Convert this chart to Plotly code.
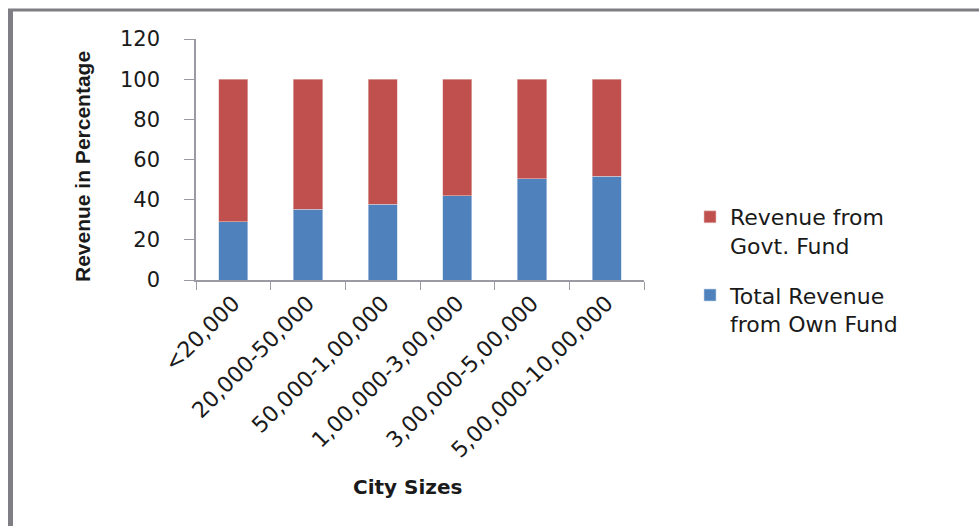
import plotly.graph_objects as go

# city size classes and revenue shares (%)
city_sizes = ["<20,000", "20,000-50,000", "50,000-1,00,000",
              "1,00,000-3,00,000", "3,00,000-5,00,000", "5,00,000-10,00,000"]
own_fund = [29, 35.3, 37.8, 42, 50.4, 51.7]
govt_fund = [71, 64.7, 62.2, 58, 49.6, 48.3]

W, H = 979, 526
L, R, T, B = 196, 335, 39, 246
pw, ph = W - L - R, H - T - B


def px_x(x):
    return (x - L) / pw


def px_y(y):
    return (H - B - y) / ph


fig = go.Figure()
fig.add_trace(go.Bar(
    x=city_sizes, y=own_fund, name="Total Revenue<br>from Own Fund",
    marker={"color": "#4F81BD", "line": {"color": "#c8d6ea", "width": 0.6}},
    legendgroup="own", legendrank=2,
))
fig.add_trace(go.Bar(
    x=city_sizes, y=govt_fund, name="Revenue from<br>Govt. Fund",
    marker={"color": "#C0504D", "line": {"color": "#e6c3c2", "width": 0.6}},
    legendgroup="govt", legendrank=1,
))

axis_col = "#9a9aa2"
fig.update_layout(
    barmode="stack",
    bargap=0.61,
    width=W, height=H,
    margin={"l": L, "r": R, "t": T, "b": B},
    paper_bgcolor="white", plot_bgcolor="white",
    font={"family": "DejaVu Sans", "color": "#1a1a1a"},
    legend={
        "x": px_x(690), "y": px_y(196), "xanchor": "left", "yanchor": "top",
        "traceorder": "grouped", "tracegroupgap": 18, "valign": "top",
        "font": {"size": 22, "family": "DejaVu Sans", "color": "#1a1a1a"},
    },
    xaxis={
        "tickangle": -45, "tickson": "boundaries",
        "ticks": "outside", "ticklen": 8, "tickcolor": axis_col,
        "showline": True, "linecolor": axis_col, "linewidth": 1.5,
        "tickfont": {"size": 22},
        "showgrid": False,
    },
    yaxis={
        "range": [0, 120], "dtick": 20,
        "ticks": "outside", "ticklen": 10, "tickcolor": axis_col,
        "showline": True, "linecolor": axis_col, "linewidth": 1.5,
        "tickfont": {"size": 21}, "ticklabelstandoff": 20,
        "showgrid": False, "zeroline": False,
    },
    annotations=[
        {"text": "<b>City Sizes</b>", "xref": "paper", "yref": "paper",
         "x": px_x(407), "y": px_y(487), "xanchor": "center", "yanchor": "middle",
         "showarrow": False, "font": {"size": 20, "family": "DejaVu Sans"}},
        {"text": "<b>Revenue in Percentage</b>", "xref": "paper", "yref": "paper",
         "x": px_x(82), "y": px_y(167), "xanchor": "center", "yanchor": "middle",
         "showarrow": False, "textangle": -90,
         "font": {"size": 21, "family": "Liberation Sans"}},
    ],
    shapes=[
        {"type": "line", "xref": "paper", "yref": "paper",
         "x0": px_x(10.5), "x1": px_x(10.5), "y0": px_y(9), "y1": px_y(530),
         "line": {"color": "#7e7e84", "width": 5}},
        {"type": "line", "xref": "paper", "yref": "paper",
         "x0": px_x(8), "x1": px_x(990), "y0": px_y(10), "y1": px_y(10),
         "line": {"color": "#7e7e84", "width": 3}},
    ],
)

# drop the default body margin so the figure sits at the window origin
fig.write_html("out.html", config={"displayModeBar": False},
               post_script="document.body.style.margin='0';")
